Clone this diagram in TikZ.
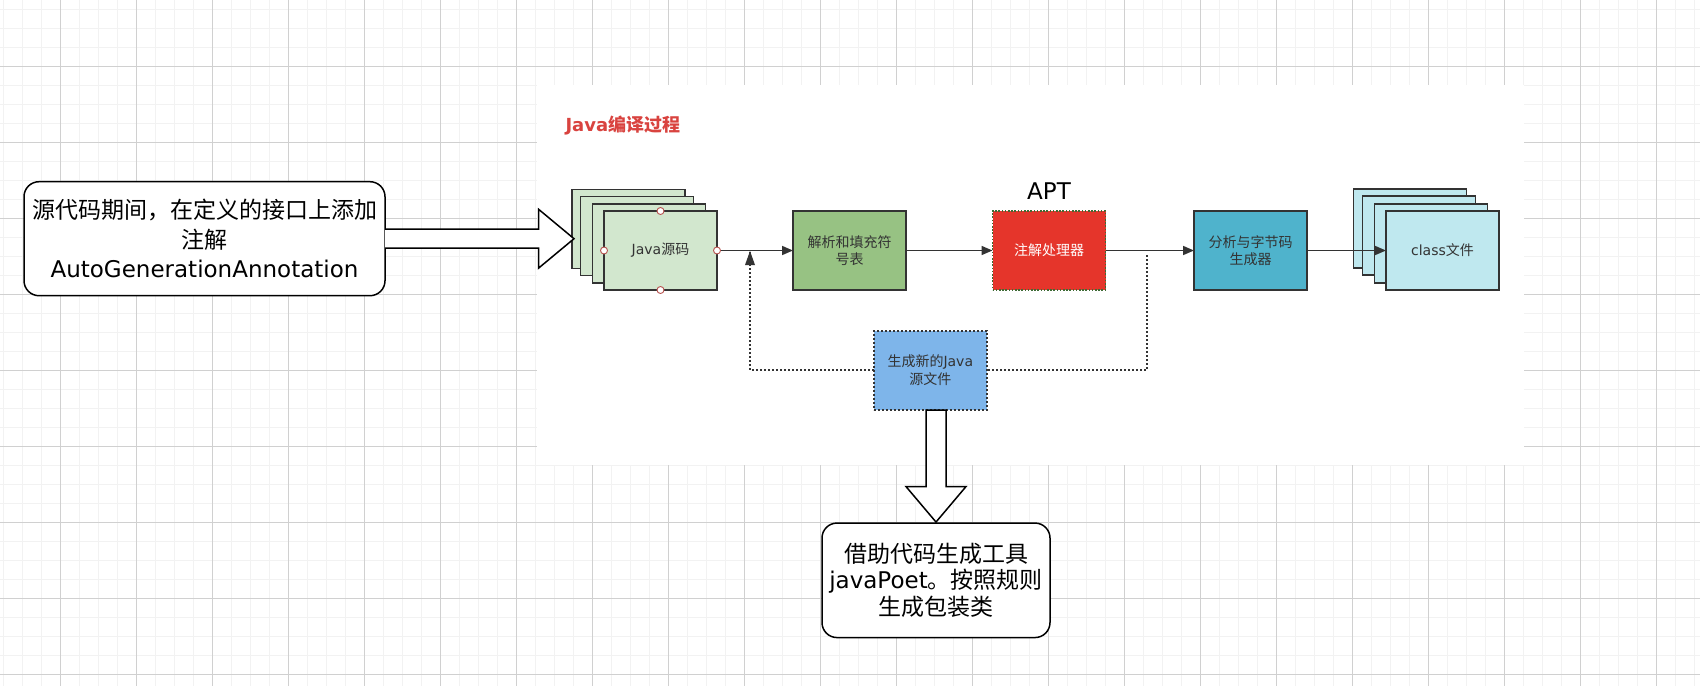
\documentclass[tikz,border=0pt]{standalone}
\usepackage{fontspec}
\setmainfont{DejaVu Sans}
\newfontfamily\cjk{Noto Sans CJK SC}
\usetikzlibrary{arrows.meta,calc}
\definecolor{gridminor}{HTML}{F2F2F2}
\definecolor{gridmajor}{HTML}{D0D0D0}
\definecolor{edge}{HTML}{333333}
\definecolor{srcgreen}{HTML}{D2E7CE}
\definecolor{midgreen}{HTML}{97C283}
\definecolor{aptred}{HTML}{E5352B}
\definecolor{aptborder}{HTML}{3D6B35}
\definecolor{anablue}{HTML}{4FB3CC}
\definecolor{classcyan}{HTML}{BFE8EF}
\definecolor{newblue}{HTML}{7EB5EA}
\definecolor{titlered}{HTML}{D9433F}
\definecolor{portred}{HTML}{B85450}
\tikzset{
  minorgrid/.style={draw=gridminor, line width=1.2pt},
  majorgrid/.style={draw=gridmajor, line width=0.9pt},
  procbox/.style={draw=edge, line width=1.8pt, minimum width=113pt, minimum height=79pt, inner sep=0pt, outer sep=0pt, text=edge, align=center, font=\fontsize{14}{17.5}\selectfont},
  notebox/.style={draw=black, line width=1.5pt, rounded corners=15pt, fill=white, inner sep=0pt, outer sep=0pt, align=center, text=black},
  hollow/.style={draw=black, line width=1.5pt, fill=white, line join=miter},
  conn/.style={draw=edge, line width=1.6pt, -{Triangle[length=11pt,width=9pt]}},
  dotline/.style={draw=edge, line width=2pt, dash pattern=on 2pt off 2pt},
  port/.style={circle, draw=portred, fill=white, line width=0.9pt, minimum size=7pt, inner sep=0pt}
}
\begin{document}
\begin{tikzpicture}[x=1pt,y=-1pt]
\useasboundingbox (0,0) rectangle (1700,686);
\fill[white] (0,0) rectangle (1700,686);
% grid
\foreach \i in {0,...,89} { \draw[minorgrid] ({3.5+19*\i},0) -- ({3.5+19*\i},686); }
\foreach \j in {0,...,36} { \draw[minorgrid] (0,{9.3+19*\j}) -- (1700,{9.3+19*\j}); }
\foreach \i in {0,...,21} { \draw[majorgrid] ({60.5+76*\i},0) -- ({60.5+76*\i},686); }
\foreach \j in {0,...,8} { \draw[majorgrid] (0,{66.3+76*\j}) -- (1700,{66.3+76*\j}); }
% white canvas of the pasted diagram
\fill[white] (536.7,85) rectangle (1524,465);

% title
\node[anchor=west, text=titlered, font=\fontsize{18}{20}\selectfont\bfseries] (title) at (562,126) {Java{\cjk\bfseries 编译过程}};

% Java source stack
\node[procbox, fill=srcgreen] (jb1) at (628.5,229) {};
\node[procbox, fill=srcgreen] (jb2) at (637,236) {};
\node[procbox, fill=srcgreen] (jb3) at (649,243.5) {};
\node[procbox, fill=srcgreen] (jsrc) at (660.5,250.5) {Java{\cjk 源码}};
\node[port] (p1) at (jsrc.north) {};
\node[port] (p2) at (jsrc.south) {};
\node[port] (p3) at (jsrc.west) {};

% processing boxes
\node[procbox, fill=midgreen] (parse) at (849.5,250.5) {{\cjk 解析和填充符}\\{\cjk 号表}};
\node[procbox, fill=aptred, draw=aptborder, dash pattern=on 1.6pt off 1.6pt, text=white] (apt) at (1049,250.5) {{\cjk 注解处理器}};
\node[font=\fontsize{23}{26}\selectfont, text=black] (aptlabel) at (1049,191) {APT};
\node[procbox, fill=anablue] (ana) at (1250.5,250.5) {{\cjk 分析与字节码}\\{\cjk 生成器}};

% class stack
\node[procbox, fill=classcyan] (cb1) at (1410,228.5) {};
\node[procbox, fill=classcyan] (cb2) at (1419,235.5) {};
\node[procbox, fill=classcyan] (cb3) at (1431,243.5) {};
\node[procbox, fill=classcyan] (cls) at (1442.5,250.5) {class{\cjk 文件}};

% new java source
\node[procbox, fill=newblue, dash pattern=on 2pt off 2pt, line width=2pt] (newsrc) at (930.3,370) {{\cjk 生成新的}Java\\{\cjk 源文件}};

% connectors
\draw[conn] (jsrc.east) -- (parse.west);
\node[port] (p4) at (jsrc.east) {};
\draw[conn] (parse.east) -- (apt.west);
\draw[conn] (apt.east) -- (ana.west);
\draw[conn] (ana.east) -- (cls.west);

\coordinate (fbR) at (1146.7,255);
\coordinate (fbL) at (750,251);
\draw[dotline] (fbR) |- (newsrc.east);
\draw[dotline] (newsrc.west) -| (fbL);
\fill[edge] (fbL) -- ++(-5,14) -- ++(10,0) -- cycle;

% left note and hollow arrow
\node[notebox, minimum width=361pt, minimum height=114pt, font=\fontsize{23}{29.5}\selectfont] (note) at (204.5,238.7)
  {{\cjk 源代码期间，在定义的接口上添加}\\{\cjk 注解}\\AutoGenerationAnnotation};
\path (note.east -| jb1.west) coordinate (ratip);
\draw[hollow] ($(note.east)+(0,-9.5)$) -- ($(ratip)+(-33.5,-9.5)$) -- ($(ratip)+(-33.5,-29.5)$)
  -- ($(ratip)+(2,0)$) -- ($(ratip)+(-33.5,29.5)$) -- ($(ratip)+(-33.5,9.5)$) -- ($(note.east)+(0,9.5)$);

% bottom note and hollow arrow
\node[notebox, minimum width=228pt, minimum height=114.5pt, font=\fontsize{23}{26.7}\selectfont] (out) at (936,580.3)
  {{\cjk 借助代码生成工具}\\java{}Poet{\cjk 。按照规则}\\{\cjk 生成包装类}};
\draw[hollow] ($(out.north)+(-10,-113)$) -- ($(out.north)+(-10,-36.5)$) -- ($(out.north)+(-30,-36.5)$)
  -- ($(out.north)+(0,-1)$) -- ($(out.north)+(30,-36.5)$) -- ($(out.north)+(10,-36.5)$) -- ($(out.north)+(10,-113)$) -- cycle;
\end{tikzpicture}
\end{document}
